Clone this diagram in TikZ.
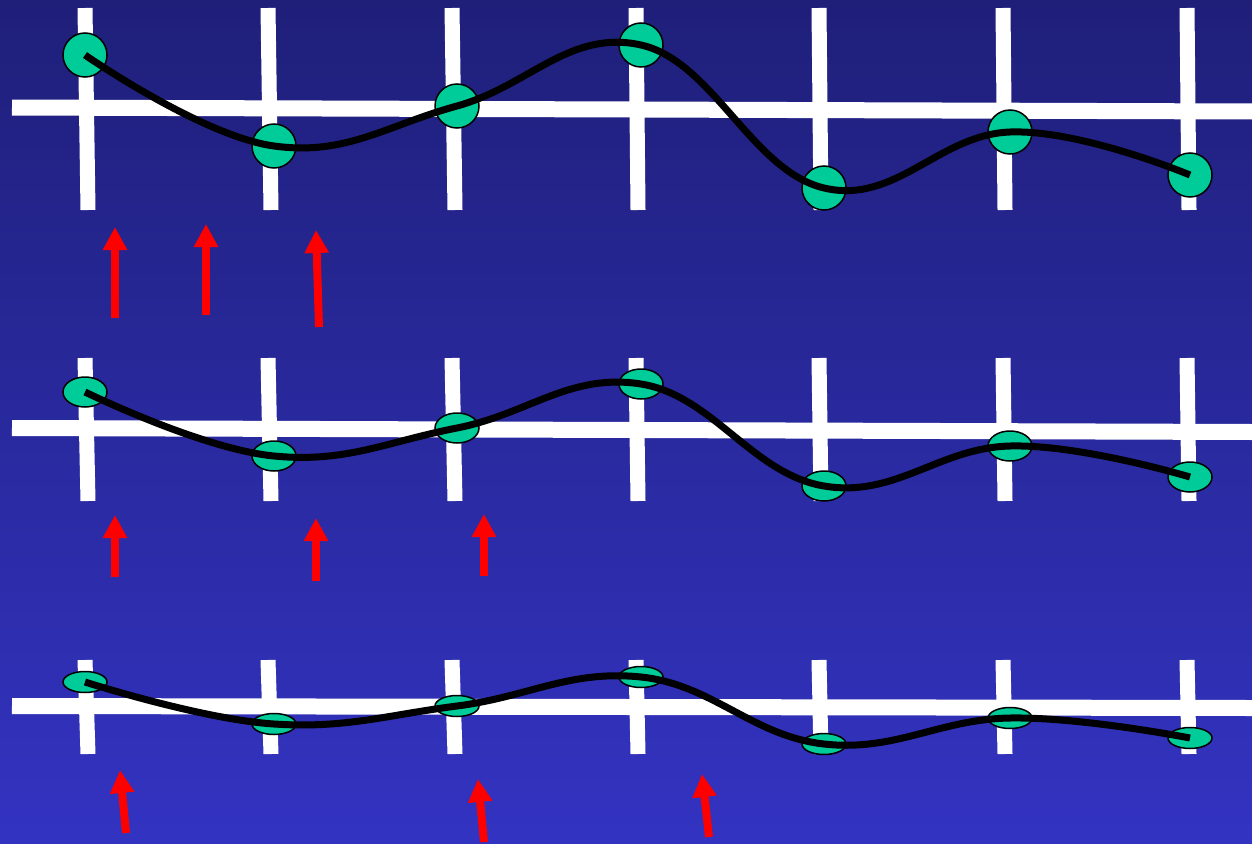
\documentclass[tikz,border=0pt]{standalone}
\usetikzlibrary{arrows.meta,shapes.geometric}
\definecolor{bgtop}{RGB}{31,31,122}
\definecolor{bgbot}{RGB}{51,51,194}
\definecolor{dotgreen}{RGB}{0,204,153}
\tikzset{
  gridline/.style={white,line width=15pt},
  dot/.style={ellipse,draw=black,line width=1.5pt,fill=dotgreen,inner sep=0pt,minimum width=44pt},
  wave/.style={black,line width=7pt},
  redarrow/.style={red,line width=8pt,-{Triangle[width=23pt,length=23pt]}},
}
\begin{document}
\begin{tikzpicture}[x=1pt,y=-1pt]
\shade[top color=bgtop,bottom color=bgbot] (0,0) rectangle (1252,843);
\useasboundingbox (0,0) rectangle (1252,843);
% ---------- grids ----------
\foreach \row/\ya/\yb/\hl/\hr in {1/8/210/107.5/111.5, 2/358/501/428/432, 3/660/754/706/708}{
  \coordinate (h\row l) at (12,\hl);
  \coordinate (h\row r) at (1252,\hr);
  \draw[gridline,line width=16pt] (h\row l) -- (h\row r);
  \foreach \i/\xt/\xb in {1/85/88,2/268/271,3/452/455,4/636/638,5/819/821,6/1003/1005,7/1187/1189}{
    \coordinate (v\row\i t) at (\xt,\ya);
    \coordinate (v\row\i b) at (\xb,\yb);
    \draw[gridline] (v\row\i t) -- (v\row\i b);
  }
}
% ---------- row 1 ----------
\node[dot,minimum height=44pt] (a1) at (85,55) {};
\node[dot,minimum height=44pt] (a2) at (274,146) {};
\node[dot,minimum height=44pt] (a3) at (457,106) {};
\node[dot,minimum height=44pt] (a4) at (641,45) {};
\node[dot,minimum height=44pt] (a5) at (824,188) {};
\node[dot,minimum height=44pt] (a6) at (1010,132) {};
\node[dot,minimum height=44pt] (a7) at (1190,175) {};
\draw[wave] plot[smooth,tension=0.7] coordinates {(a1.center) (a2.center) (a3.center) (a4.center) (a5.center) (a6.center) (a7.center)};
% ---------- row 2 ----------
\node[dot,minimum height=30pt] (b1) at (85,392) {};
\node[dot,minimum height=30pt] (b2) at (274,456) {};
\node[dot,minimum height=30pt] (b3) at (457,428) {};
\node[dot,minimum height=30pt] (b4) at (641,384) {};
\node[dot,minimum height=30pt] (b5) at (824,486) {};
\node[dot,minimum height=30pt] (b6) at (1010,446) {};
\node[dot,minimum height=30pt] (b7) at (1190,477) {};
\draw[wave] plot[smooth,tension=0.7] coordinates {(b1.center) (b2.center) (b3.center) (b4.center) (b5.center) (b6.center) (b7.center)};
% ---------- row 3 ----------
\node[dot,minimum height=21pt] (c1) at (85,682) {};
\node[dot,minimum height=21pt] (c2) at (274,724) {};
\node[dot,minimum height=21pt] (c3) at (457,706) {};
\node[dot,minimum height=21pt] (c4) at (641,677) {};
\node[dot,minimum height=21pt] (c5) at (824,744) {};
\node[dot,minimum height=21pt] (c6) at (1010,718) {};
\node[dot,minimum height=21pt] (c7) at (1190,738) {};
\draw[wave] plot[smooth,tension=0.7] coordinates {(c1.center) (c2.center) (c3.center) (c4.center) (c5.center) (c6.center) (c7.center)};
% ---------- red arrows ----------
\foreach \n/\xs/\ys/\xe/\ye in {
  p1/115/318/115/227, p2/206/315/206/224, p3/319/327/316/230,
  q1/115/577/115/515, q2/316/581/316/518, q3/484/576/484/514,
  s1/126/833/120/770, s2/484/842/478/779, s3/709/837/702/774}{
  \coordinate (\n s) at (\xs,\ys);
  \coordinate (\n e) at (\xe,\ye);
  \draw[redarrow] (\n s) -- (\n e);
}
\end{tikzpicture}
\end{document}
